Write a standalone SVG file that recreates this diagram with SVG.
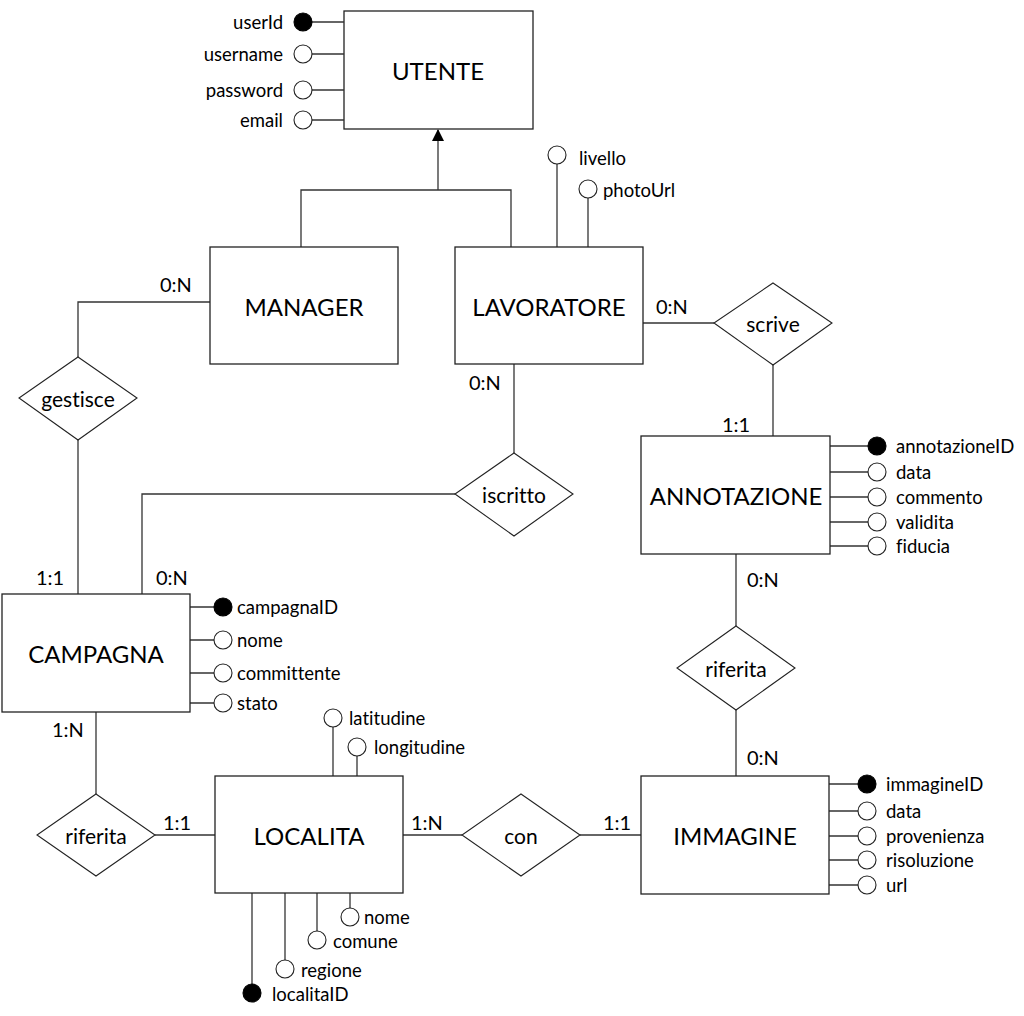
<svg xmlns="http://www.w3.org/2000/svg" width="1024" height="1016" viewBox="0 0 1024 1016">
<defs>
<style>
text{font-family:"Lato","Liberation Sans",sans-serif;fill:#000;font-variant-ligatures:none;font-feature-settings:"liga" 0,"dlig" 0}
.ent{fill:#fff;stroke:#222;stroke-width:1.3}
.rel{fill:#fff;stroke:#222;stroke-width:1.1}
.en{font-size:24px;text-anchor:middle;dominant-baseline:central}
.rn{font-size:21px;text-anchor:middle;dominant-baseline:central}
.at{font-size:18.5px;dominant-baseline:central}
.ar{text-anchor:end}
.cd{font-size:20px;dominant-baseline:central}
.ln{fill:none;stroke:#333;stroke-width:1.3}
.ao{fill:#fff;stroke:#222;stroke-width:1.1}
.af{fill:#000;stroke:#000;stroke-width:1.1}
</style>
<marker id="tri" markerWidth="12" markerHeight="12" refX="11" refY="6" orient="auto" markerUnits="userSpaceOnUse">
<path d="M0,0 L12,6 L0,12 z" fill="#000"/>
</marker>
</defs>
<rect width="1024" height="1016" fill="#fff"/>

<g id="connectors" class="ln">
<polyline points="301,247 301,190 511,190 511,247"/>
<line x1="438" y1="190" x2="438" y2="130" marker-end="url(#tri)"/>
<polyline points="210,302 78,302 78,357"/>
<line x1="78" y1="440" x2="78" y2="594"/>
<line x1="514" y1="364" x2="514" y2="453"/>
<polyline points="455,494 142,494 142,594"/>
<line x1="643" y1="323" x2="714" y2="323"/>
<line x1="773" y1="365" x2="773" y2="436"/>
<line x1="736" y1="554" x2="736" y2="626"/>
<line x1="736" y1="710" x2="736" y2="776"/>
<line x1="96" y1="712" x2="96" y2="794"/>
<line x1="155" y1="835" x2="215" y2="835"/>
<line x1="403" y1="835" x2="462" y2="835"/>
<line x1="580" y1="835" x2="641" y2="835"/>
</g>

<g id="utente">
<rect class="ent" x="344" y="11" width="189" height="118"/>
<text class="en" x="438" y="70">UTENTE</text>
<g class="ln"><line x1="303" y1="22" x2="344" y2="22"/><line x1="303" y1="54" x2="344" y2="54"/><line x1="303" y1="90" x2="344" y2="90"/><line x1="303" y1="120" x2="344" y2="120"/></g>
<circle class="af" cx="303" cy="22" r="9"/>
<circle class="ao" cx="303" cy="54" r="9"/>
<circle class="ao" cx="303" cy="90" r="9"/>
<circle class="ao" cx="303" cy="120" r="9"/>
<text class="at ar" x="283" y="22">userId</text>
<text class="at ar" x="283" y="54">username</text>
<text class="at ar" x="283" y="90">password</text>
<text class="at ar" x="283" y="120">email</text>
</g>

<g id="manager">
<rect class="ent" x="210" y="247" width="188" height="117"/>
<text class="en" x="304" y="306">MANAGER</text>
<text class="cd" x="160" y="284">0:N</text>
</g>

<g id="lavoratore">
<g class="ln"><line x1="557" y1="164" x2="557" y2="247"/><line x1="588" y1="198" x2="588" y2="247"/></g>
<rect class="ent" x="455" y="247" width="188" height="117"/>
<text class="en" x="549" y="306">LAVORATORE</text>
<circle class="ao" cx="557" cy="155" r="9"/>
<circle class="ao" cx="588" cy="189" r="9"/>
<text class="at" x="579" y="158">livello</text>
<text class="at" x="603" y="190">photoUrl</text>
<text class="cd" x="656" y="306">0:N</text>
<text class="cd" x="469" y="382">0:N</text>
</g>

<g id="gestisce">
<polygon class="rel" points="78,357 137,398 78,440 19,398"/>
<text class="rn" x="78" y="398">gestisce</text>
</g>

<g id="iscritto">
<polygon class="rel" points="514,453 573,494 514,536 455,494"/>
<text class="rn" x="514" y="494">iscritto</text>
</g>

<g id="scrive">
<polygon class="rel" points="773,283 832,323 773,365 714,323"/>
<text class="rn" x="773" y="323">scrive</text>
</g>

<g id="annotazione">
<g class="ln"><line x1="830" y1="446" x2="877" y2="446"/><line x1="830" y1="472" x2="877" y2="472"/><line x1="830" y1="497" x2="877" y2="497"/><line x1="830" y1="522" x2="877" y2="522"/><line x1="830" y1="546" x2="877" y2="546"/></g>
<rect class="ent" x="641" y="436" width="189" height="118"/>
<text class="en" x="736" y="495">ANNOTAZIONE</text>
<circle class="af" cx="877" cy="446" r="9"/>
<circle class="ao" cx="877" cy="472" r="9"/>
<circle class="ao" cx="877" cy="497" r="9"/>
<circle class="ao" cx="877" cy="522" r="9"/>
<circle class="ao" cx="877" cy="546" r="9"/>
<text class="at" x="896" y="446">annotazioneID</text>
<text class="at" x="896" y="472">data</text>
<text class="at" x="896" y="497">commento</text>
<text class="at" x="896" y="522">validita</text>
<text class="at" x="896" y="546">fiducia</text>
<text class="cd" x="722" y="424">1:1</text>
<text class="cd" x="747" y="579">0:N</text>
</g>

<g id="riferita-annotazione">
<polygon class="rel" points="736,626 795,668 736,710 677,668"/>
<text class="rn" x="736" y="668">riferita</text>
</g>

<g id="campagna">
<g class="ln"><line x1="190" y1="607" x2="223" y2="607"/><line x1="190" y1="640" x2="223" y2="640"/><line x1="190" y1="673" x2="223" y2="673"/><line x1="190" y1="703" x2="223" y2="703"/></g>
<rect class="ent" x="2" y="594" width="188" height="118"/>
<text class="en" x="96" y="653">CAMPAGNA</text>
<circle class="af" cx="223" cy="607" r="9"/>
<circle class="ao" cx="223" cy="640" r="9"/>
<circle class="ao" cx="223" cy="673" r="9"/>
<circle class="ao" cx="223" cy="703" r="9"/>
<text class="at" x="237" y="607">campagnaID</text>
<text class="at" x="237" y="640">nome</text>
<text class="at" x="237" y="673">committente</text>
<text class="at" x="237" y="703">stato</text>
<text class="cd" x="36" y="577">1:1</text>
<text class="cd" x="156" y="577">0:N</text>
<text class="cd" x="52" y="729">1:N</text>
</g>

<g id="riferita-localita">
<polygon class="rel" points="96,794 155,835 96,876 37,835"/>
<text class="rn" x="96" y="835">riferita</text>
<text class="cd" x="163" y="822">1:1</text>
</g>

<g id="localita">
<g class="ln"><line x1="333" y1="727" x2="333" y2="776"/><line x1="357" y1="756" x2="357" y2="776"/><line x1="252" y1="893" x2="252" y2="993"/><line x1="285" y1="893" x2="285" y2="969"/><line x1="317" y1="893" x2="317" y2="940"/><line x1="350" y1="893" x2="350" y2="917"/></g>
<rect class="ent" x="215" y="776" width="188" height="117"/>
<text class="en" x="309" y="835">LOCALITA</text>
<circle class="ao" cx="333" cy="718" r="9"/>
<circle class="ao" cx="357" cy="747" r="9"/>
<circle class="af" cx="252" cy="993" r="9"/>
<circle class="ao" cx="285" cy="969" r="9"/>
<circle class="ao" cx="317" cy="940" r="9"/>
<circle class="ao" cx="350" cy="917" r="9"/>
<text class="at" x="349" y="718">latitudine</text>
<text class="at" x="374" y="747">longitudine</text>
<text class="at" x="272" y="994">localitaID</text>
<text class="at" x="301" y="970">regione</text>
<text class="at" x="333" y="941">comune</text>
<text class="at" x="364" y="917">nome</text>
<text class="cd" x="411" y="822">1:N</text>
</g>

<g id="con">
<polygon class="rel" points="521,794 580,835 521,876 462,835"/>
<text class="rn" x="521" y="835">con</text>
<text class="cd" x="603" y="822">1:1</text>
</g>

<g id="immagine">
<g class="ln"><line x1="829" y1="784" x2="867" y2="784"/><line x1="829" y1="811" x2="867" y2="811"/><line x1="829" y1="836" x2="867" y2="836"/><line x1="829" y1="860" x2="867" y2="860"/><line x1="829" y1="885" x2="867" y2="885"/></g>
<rect class="ent" x="641" y="776" width="188" height="118"/>
<text class="en" x="735" y="835">IMMAGINE</text>
<circle class="af" cx="867" cy="784" r="9"/>
<circle class="ao" cx="867" cy="811" r="9"/>
<circle class="ao" cx="867" cy="836" r="9"/>
<circle class="ao" cx="867" cy="860" r="9"/>
<circle class="ao" cx="867" cy="885" r="9"/>
<text class="at" x="886" y="784">immagineID</text>
<text class="at" x="886" y="811">data</text>
<text class="at" x="886" y="836">provenienza</text>
<text class="at" x="886" y="860">risoluzione</text>
<text class="at" x="886" y="885">url</text>
<text class="cd" x="747" y="757">0:N</text>
</g>
</svg>
